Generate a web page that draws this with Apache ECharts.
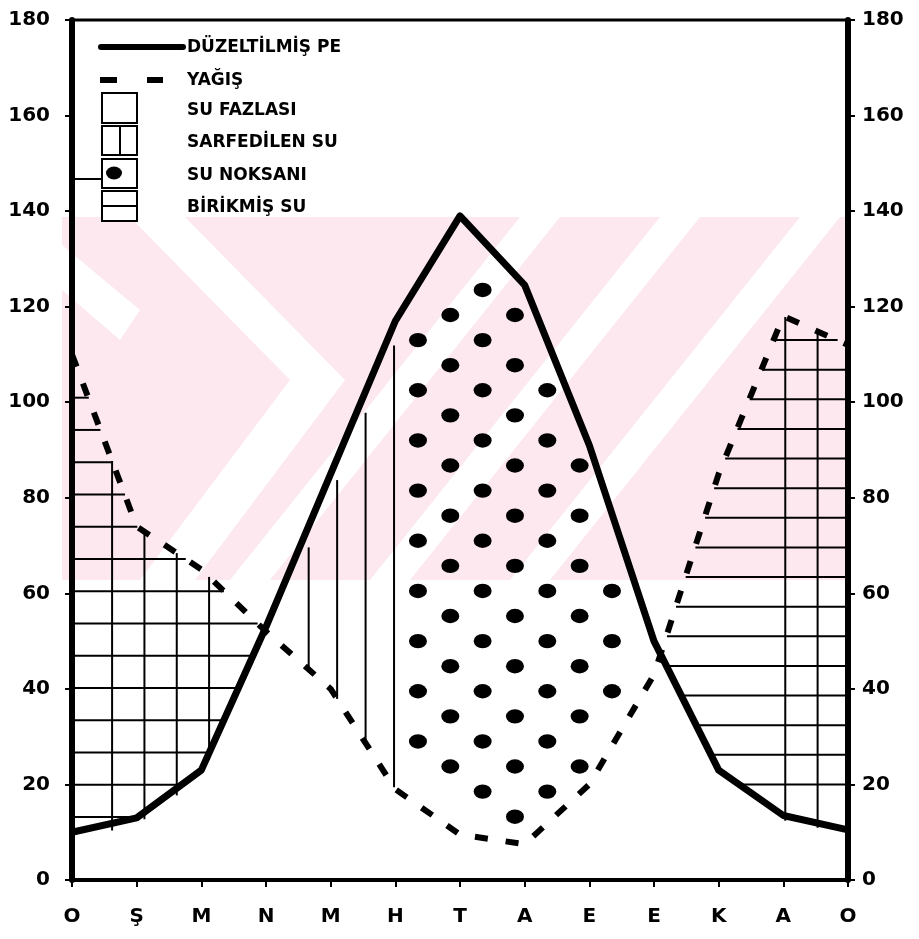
<!DOCTYPE html>
<html>
<head>
<meta charset="utf-8">
<script src="https://cdn.jsdelivr.net/npm/echarts@6/dist/echarts.min.js"></script>
<style>
    html, body { margin: 0; padding: 0; background: #fff; }
    #chart { width: 919px; height: 939px; }
</style>
</head>
<body>
<div id="chart"></div>
<script>
const months = ["O", "Ş", "M", "N", "M", "H", "T", "A", "E", "E", "K", "A", "O"];
// düzeltilmiş potansiyel evapotranspirasyon (mm)
const pe = [10, 13, 23, 53, 85, 117, 139, 124.5, 91, 50, 23, 13.5, 10.5];
// yağış (mm)
const precip = [110, 74, 65, 52, 40, 19, 9.5, 7.5, 20, 43, 85, 118, 112];
const legendNames = ["DÜZELTİLMİŞ PE", "YAĞIŞ", "SU FAZLASI", "SARFEDİLEN SU", "SU NOKSANI", "BİRİKMİŞ SU"];

const FONT = "DejaVu Sans";

const lerp = (arr, x) => {
    const i = Math.max(0, Math.min(arr.length - 2, Math.floor(x)));
    return arr[i] + (arr[i + 1] - arr[i]) * (x - i);
};

const renderHatch = (params, api) => {
    const children = [];
    const seg = (x1, y1, x2, y2) => {
        const a = api.coord([x1, y1]);
        const b = api.coord([x2, y2]);
        children.push({
            type: "line",
            shape: { x1: a[0], y1: a[1], x2: b[0], y2: b[1] },
            style: { stroke: "#000", lineWidth: 2 }
        });
    };

    // birikmiş su: horizontal lines where precip > PE
    const wet = (x, y) => lerp(pe, x) < y && y < lerp(precip, x);
    const hLines = (from, to, y0, dy, yMax) => {
        for (let y = y0; y <= yMax; y += dy) {
            let start = null;
            const n = Math.round((to - from) / 0.01);
            for (let k = 0; k <= n; k++) {
                const x = from + k * 0.01;
                const inside = wet(x, y);
                if (inside && start === null) start = x;
                if (start !== null && (!inside || k === n)) {
                    seg(start, y, x, y);
                    start = null;
                }
            }
        }
    };
    hLines(0, 3, 13.2, 6.75, 102);
    hLines(9, 12, 20, 6.2, 114);

    // sarfedilen su: vertical lines
    const vLines = (x0, x1, step, bottom, top) => {
        for (let x = x0; x <= x1; x += step) seg(x, bottom(x), x, top(x));
    };
    vLines(0.62, 2.2, 0.5, x => lerp(pe, x) - 1.5, x => lerp(precip, x));
    vLines(3.66, 5.0, 0.44, x => lerp(precip, x), x => lerp(pe, x) - 4.5);
    vLines(11.03, 11.6, 0.5, x => lerp(pe, x) - 1, x => lerp(precip, x));

    // su noksanı: dots
    for (let c = 0; ; c++) {
        const x = 5.35 + c * 0.5;
        if (x > 9.1) break;
        for (let y = 8 + (c % 2) * 5.25; y < 140; y += 10.5) {
            const ok = [-0.18, 0, 0.18].every(d => y < lerp(pe, x + d) - 3 && y > lerp(precip, x + d) + 3);
            if (!ok) continue;
            const p = api.coord([x, y]);
            children.push({
                type: "circle",
                x: p[0],
                y: p[1],
                scaleY: 0.8,
                shape: { cx: 0, cy: 0, r: 9 },
                style: { fill: "#000" }
            });
        }
    }
    return { type: "group", children: children };
};

const watermark = () => {
    const pink = "#fce8ee";
    const els = [
        { type: "rect", shape: { x: 62, y: 217, width: 784, height: 363 }, style: { fill: pink } },
        { type: "polygon", shape: { points: [[130, 217], [185, 217], [345, 380], [195, 580], [140, 580], [290, 380]] }, style: { fill: "#fff" } },
        { type: "polygon", shape: { points: [[62, 245], [62, 290], [120, 340], [140, 310]] }, style: { fill: "#fff" } }
    ];
    [520, 660, 800].forEach(s => {
        els.push({
            type: "polygon",
            shape: { points: [[s, 217], [s + 40, 217], [s + 40 - 290, 580], [s - 290, 580]] },
            style: { fill: "#fff" }
        });
    });
    return { type: "group", z: -10, silent: true, children: els };
};

const legendGraphic = () => {
    const txt = (y, s) => ({
        type: "text",
        x: 187,
        y: y,
        style: { text: s, font: "bold 17px '" + FONT + "'", fill: "#000", verticalAlign: "middle" }
    });
    const box = (y, h) => ({
        type: "rect",
        shape: { x: 102, y: y, width: 35, height: h },
        style: { fill: "#fff", stroke: "#000", lineWidth: 2 }
    });
    const ln = (x1, y1, x2, y2, w) => ({
        type: "line",
        shape: { x1: x1, y1: y1, x2: x2, y2: y2 },
        style: { stroke: "#000", lineWidth: w, lineCap: "round" }
    });
    return {
        type: "group",
        z: 100,
        children: [
            ln(101, 47, 183, 47, 6),
            txt(48, legendNames[0]),
            { type: "rect", shape: { x: 100, y: 77, width: 17, height: 6 }, style: { fill: "#000" } },
            { type: "rect", shape: { x: 147, y: 77, width: 16, height: 6 }, style: { fill: "#000" } },
            txt(81, legendNames[1]),
            box(93, 30),
            txt(111, legendNames[2]),
            box(126, 29),
            ln(120, 126, 120, 155, 2),
            txt(143, legendNames[3]),
            box(159, 29),
            { type: "circle", x: 114, y: 173, scaleY: 0.8, shape: { cx: 0, cy: 0, r: 8 }, style: { fill: "#000" } },
            ln(72, 179, 102, 179, 2),
            txt(176, legendNames[4]),
            box(191, 30),
            ln(102, 206, 137, 206, 2),
            txt(208, legendNames[5])
        ]
    };
};

const yAxisBase = (position, margin) => ({
    type: "value",
    position: position,
    min: 0,
    max: 180,
    interval: 20,
    axisLine: { show: true, lineStyle: { color: "#000", width: 6 } },
    axisTick: { show: true, length: 7, lineStyle: { color: "#000", width: 2 } },
    axisLabel: { color: "#000", fontFamily: FONT, fontWeight: "bold", fontSize: 20, margin: margin },
    splitLine: { show: false }
});

const getOption = () => ({
    animation: false,
    backgroundColor: "#fff",
    grid: { left: 72, right: 71, top: 20, bottom: 59, show: true, borderColor: "#000", borderWidth: 3 },
    graphic: [watermark(), legendGraphic()],
    xAxis: {
        type: "value",
        min: 0,
        max: 12,
        interval: 1,
        axisLine: { lineStyle: { color: "#000", width: 4 } },
        axisTick: { show: true, length: 7, lineStyle: { color: "#000", width: 2 } },
        axisLabel: {
            color: "#000",
            fontFamily: FONT,
            fontWeight: "bold",
            fontSize: 20,
            margin: 27,
            formatter: v => months[v] || ""
        },
        splitLine: { show: false }
    },
    yAxis: [yAxisBase("left", 22), yAxisBase("right", 14)],
    series: [
        {
            type: "custom",
            renderItem: renderHatch,
            data: [[0, 0]],
            clip: false,
            silent: true,
            z: 3
        },
        {
            name: legendNames[1],
            type: "line",
            data: precip.map((v, i) => [i, v]),
            symbol: "none",
            lineStyle: { color: "#000", width: 6, type: [13, 18], cap: "butt" },
            z: 4
        },
        {
            name: legendNames[0],
            type: "line",
            data: pe.map((v, i) => [i, v]),
            symbol: "none",
            lineStyle: { color: "#000", width: 7, join: "round" },
            z: 5
        }
    ]
});

window.addEventListener("load", () => {
    const chart = echarts.init(document.getElementById("chart"));
    chart.setOption(getOption());
});
</script>
</body>
</html>
